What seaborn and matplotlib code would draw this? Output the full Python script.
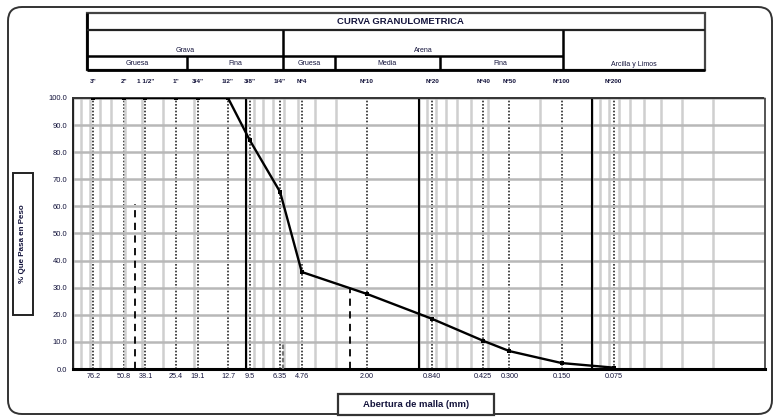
import numpy as np
import pandas as pd
import seaborn as sns
import matplotlib
matplotlib.use("Agg")
import matplotlib.pyplot as plt
from matplotlib.ticker import FixedLocator, LogLocator, NullFormatter
from matplotlib.patches import FancyBboxPatch, Rectangle
import matplotlib.transforms as mtransforms

# ---------------- data ----------------
sieve_names = ['3"', '2"', '1 1/2"', '1"', '3/4"', '1/2"', '3/8"', '1/4"',
               'Nº4', 'Nº10', 'Nº20', 'Nº40', 'Nº50', 'Nº100', 'Nº200']
sieve_mm = [76.2, 50.8, 38.1, 25.4, 19.05, 12.7, 9.525, 6.35,
            4.76, 2.00, 0.840, 0.425, 0.300, 0.150, 0.075]
tick_labels = ['76.2', '50.8', '38.1', '25.4', '19.1', '12.7', '9.5', '6.35',
               '4.76', '2.00', '0.840', '0.425', '0.300', '0.150', '0.075']
percent_passing = [100.0, 100.0, 100.0, 100.0, 100.0, 100.0, 84.5, 65.3,
                   35.8, 27.7, 18.5, 10.4, 6.6, 2.2, 0.5]
decades = [10.0, 1.0, 0.1]
y_ticks = [0, 10, 20, 30, 40, 50, 60, 70, 80, 90, 100]
# characteristic diameters (size mm, percent)
d60 = (43.8, 61.0)
d30 = (2.5, 30.0)
d10 = (6.1, 10.0)

title = "CURVA GRANULOMETRICA"
ylabel = "% Que Pasa en Peso"
xlabel = "Abertura de malla (mm)"

# ---------------- style ----------------
sns.set_theme(style="white")
plt.rcParams['font.family'] = ['Liberation Sans', 'DejaVu Sans']
TXT = '#14143c'

W, H = 774, 419
fig = plt.figure(figsize=(W / 100, H / 100), dpi=100)
L, R, T, B = 73, 765, 98, 369
ax = fig.add_axes([L / W, 1 - B / H, (R - L) / W, (B - T) / H])

df = pd.DataFrame({"size": sieve_mm, "passing": percent_passing})

ax.set_xscale('log')
ax.set_xlim(100, 0.01)
ax.set_ylim(0, 100)

# grids
ax.xaxis.set_major_locator(FixedLocator(sieve_mm))
ax.set_xticklabels(tick_labels)
ax.xaxis.set_minor_locator(LogLocator(base=10, subs=np.arange(1, 10), numticks=50))
ax.xaxis.set_minor_formatter(NullFormatter())
ax.set_yticks(y_ticks)
ax.set_yticklabels([f"{v:.1f}" for v in y_ticks])
ax.grid(which='minor', axis='x', color='#cfcfcf', lw=1.8, zorder=0)
ax.grid(which='major', axis='y', color='#b8b8b8', lw=1.8, zorder=0)
ax.grid(which='major', axis='x', color='#2a2a2a', lw=1.2, ls=(0, (1, 1)), zorder=1)
ax.set_axisbelow(True)
for d in decades:
    ax.axvline(d, color='black', lw=1.5, zorder=1)

ax.tick_params(axis='x', which='both', length=0, labelsize=5.2, labelcolor=TXT, pad=3)
ax.tick_params(axis='y', which='major', length=3, direction='in', labelsize=5.5,
               labelcolor=TXT, pad=4, color='black')
ax.tick_params(axis='x', which='minor', length=0)

for s in ['left']:
    ax.spines[s].set_color('black'); ax.spines[s].set_linewidth(1.2)
    ax.spines[s].set_linestyle((0, (1, 1)))
ax.spines['bottom'].set_color('black'); ax.spines['bottom'].set_linewidth(2.2)
ax.spines['top'].set_color('#333333'); ax.spines['top'].set_linewidth(1.4)
ax.spines['top'].set_linestyle((0, (1, 1)))
ax.spines['right'].set_color('#555555'); ax.spines['right'].set_linewidth(1.4)
ax.spines['right'].set_linestyle((0, (1, 1)))

# curve
sns.lineplot(data=df, x="size", y="passing", ax=ax, color='black', lw=1.7,
             marker='s', markersize=2.5, markeredgewidth=0, zorder=5, sort=False)
ax.set_xlabel(''); ax.set_ylabel('')

# D lines
ax.plot([d60[0], d60[0]], [0, d60[1]], color='black', lw=1.3, ls=(0, (4, 3)), zorder=4)
ax.plot([d30[0], d30[0]], [0, d30[1]], color='black', lw=1.3, ls=(0, (4, 3)), zorder=4)
ax.plot([d10[0], d10[0]], [0, d10[1]], color='#777777', lw=1.6, ls=(0, (2, 1)), zorder=4)

# sieve names above plot
trans = mtransforms.blended_transform_factory(ax.transData, ax.transAxes)
for name, s in zip(sieve_names, sieve_mm):
    ax.text(s, 1.06, name, transform=trans, ha='center', va='center',
            fontsize=4.6, color=TXT, fontweight='bold')

# ---------------- overlay (header table, frame, labels) ----------------
ov = fig.add_axes([0, 0, 1, 1], zorder=-1)
ov.set_xlim(0, W); ov.set_ylim(H, 0); ov.axis('off')
ov2 = fig.add_axes([0, 0, 1, 1], zorder=10)
ov2.set_xlim(0, W); ov2.set_ylim(H, 0); ov2.axis('off')
ov2.patch.set_alpha(0)

frame = FancyBboxPatch((8, 7), W - 10, H - 12, boxstyle="round,pad=0,rounding_size=14",
                       fill=False, ec='#333333', lw=1.4)
ov2.add_patch(frame)

def hl(x0, x1, y, lw=1.8, c='black'):
    ov2.plot([x0, x1], [y, y], color=c, lw=lw, solid_capstyle='butt')

def vl(x, y0, y1, lw=1.8, c='black'):
    ov2.plot([x, x], [y0, y1], color=c, lw=lw, solid_capstyle='butt')

# header table
ov2.add_patch(Rectangle((87, 13), 705 - 87, 70 - 13, fill=False, ec='#444444', lw=1.6))
vl(87, 13, 70, 2.0)
hl(87, 705, 30, 1.6, '#222222')
hl(87, 563, 56, 1.8)
hl(87, 705, 70, 2.0)
vl(283, 30, 70)
vl(563, 30, 70)
vl(187, 56, 70)
vl(335, 56, 70)
vl(440, 56, 70)

ov2.text(400, 21.5, title, ha='center', va='center', fontsize=6.8,
         fontweight='bold', color=TXT)
hdr = [("Grava", 185, 51), ("Arena", 423, 51), ("Gruesa", 137, 63.5),
       ("Fina", 235, 63.5), ("Gruesa", 309, 63.5), ("Media", 387, 63.5),
       ("Fina", 500, 63.5), ("Arcilla y Limos", 634, 64)]
for t, x, y in hdr:
    ov2.text(x, y, t, ha='center', va='center', fontsize=5.0, color=TXT)

# y label box
ov2.add_patch(Rectangle((13, 173), 20, 142, fill=True, fc='white', ec='#222222', lw=1.4))
ov2.text(23, 244, ylabel, rotation=90, ha='center', va='center', fontsize=5.8,
         fontweight='bold', color=TXT)
# x label box
ov2.add_patch(Rectangle((338, 394), 156, 21, fill=True, fc='white', ec='#333333', lw=1.6))
ov2.text(416, 404.5, xlabel, ha='center', va='center', fontsize=6.8,
         fontweight='bold', color=TXT)

fig.savefig("out.png", dpi=100)
